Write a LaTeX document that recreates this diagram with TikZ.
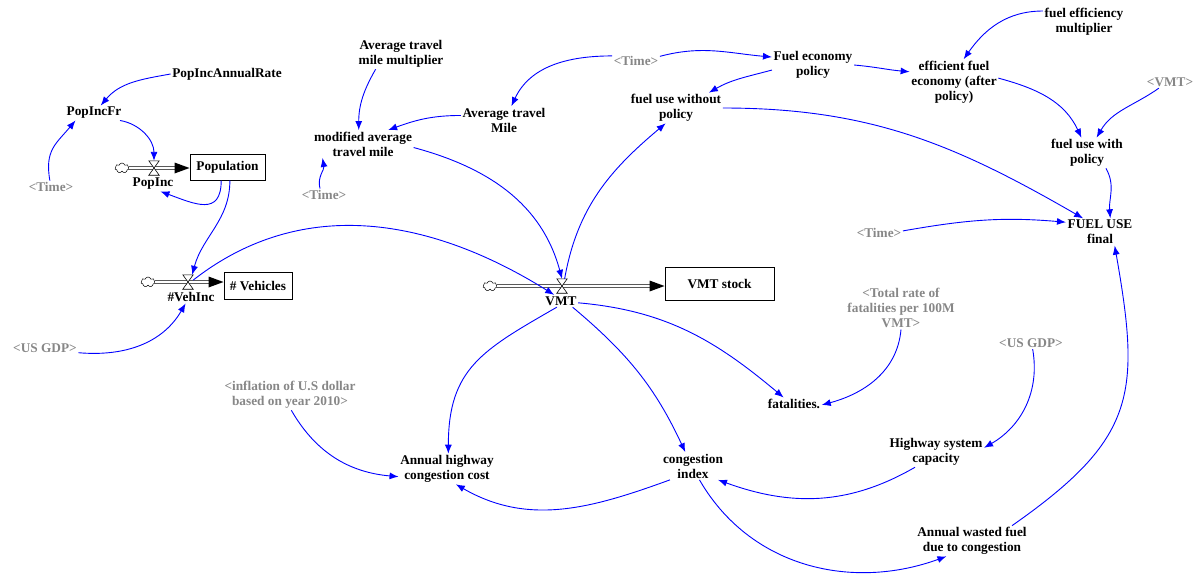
\documentclass[tikz,border=0pt]{standalone}
\usepackage{fontspec}
\setmainfont{Liberation Serif}
\usetikzlibrary{arrows.meta,shapes.symbols}
\definecolor{shadowgray}{RGB}{135,135,135}
\definecolor{linkblue}{RGB}{0,0,255}
\begin{document}
\begin{tikzpicture}[x=1pt,y=1pt,
  lbl/.style={font=\fontsize{13.3}{15}\selectfont\bfseries, align=center, inner sep=1.5pt},
  shadow/.style={lbl, text=shadowgray},
  stock/.style={draw=black, line width=1pt, font=\fontsize{13.3}{15}\selectfont\bfseries, inner sep=1pt},
  cnx/.style={draw=linkblue, line width=0.9pt, -{Latex[length=9pt,width=7pt]}},
  pipe/.style={draw=black, double=white, double distance=1.6pt, line width=0.9pt},
  valve/.style={minimum width=10pt, minimum height=14pt, inner sep=0pt},
  src/.style={cloud, cloud puffs=7, aspect=1.4, draw=black, fill=white, line width=0.5pt, minimum width=14pt, minimum height=10pt, inner sep=0pt},
  bowtie/.style={draw=black, fill=white, line width=0.6pt}
]
\useasboundingbox (0,0) rectangle (1201,-584);

% ---- population sector ----
\node[lbl] (rate) at (227,-74) {PopIncAnnualRate};
\node[lbl] (fr) at (94,-113) {PopIncFr};
\node[shadow] (tA) at (51,-187) {<Time>};
\node[stock, minimum width=75pt, minimum height=26pt] (pop) at (227.5,-167) {Population};
\node[valve] (popv) at (154,-168) {};
\node[src] (popc) at (122,-168) {};
\node[lbl] (popinc) at (153,-184) {PopInc};

\node[stock, minimum width=68pt, minimum height=27pt] (veh) at (258,-285.5) {\# Vehicles};
\node[valve] (vehv) at (188,-282) {};
\node[src] (vehc) at (148,-282) {};
\node[lbl] (vehinc) at (191,-297) {\#VehInc};
\node[shadow] (gdpA) at (45,-348) {<US GDP>};

% ---- travel sector ----
\node[lbl] (atmm) at (401,-54) {Average travel\\mile multiplier};
\node[lbl] (mod) at (363,-144) {modified average\\travel mile};
\node[shadow] (tB) at (324,-195) {<Time>};
\node[lbl] (atm) at (504,-120) {Average travel\\Mile};
\node[shadow] (tC) at (636,-61) {<Time>};

% ---- fuel sector ----
\node[lbl] (fep) at (813,-65) {Fuel economy\\policy};
\node[lbl] (fuwo) at (676,-108) {fuel use without\\policy};
\node[lbl] (eff) at (954,-82) {efficient fuel\\economy (after\\policy)};
\node[lbl] (fem) at (1084,-22) {fuel efficiency\\multiplier};
\node[shadow] (vmtR) at (1170,-82) {<VMT>};
\node[lbl] (fuwp) at (1087,-153) {fuel use with\\policy};
\node[shadow] (tD) at (879,-233) {<Time>};
\node[lbl] (fuel) at (1100,-232) {FUEL USE\\final};

% ---- VMT sector ----
\node[valve] (vmtv) at (562,-286) {};
\node[src] (vmtc) at (490,-286) {};
\node[lbl] (vmt) at (561,-301) {VMT};
\node[stock, minimum width=109pt, minimum height=33pt] (vmts) at (719.5,-283.5) {VMT stock};
\node[shadow] (tot) at (901,-308) {<Total rate of\\fatalities per 100M\\VMT>};
\node[lbl] (fat) at (794,-404) {fatalities.};
\node[shadow] (gdpB) at (1031,-343) {<US GDP>};
\node[lbl] (hsc) at (936,-452) {Highway system\\capacity};
\node[shadow] (infl) at (290,-395) {<inflation of U.S dollar\\based on year 2010>};
\node[lbl] (ahcc) at (447,-469) {Annual highway\\congestion cost};
\node[lbl] (ci) at (693,-466) {congestion\\index};
\node[lbl] (awf) at (972,-541) {Annual wasted fuel\\due to congestion};

% ---- flow pipes ----
\coordinate (poptip) at (pop.west |- popv);
\coordinate (vehtip) at (veh.west |- vehv);
\coordinate (vmttip) at (vmts.west |- vmtv);
\foreach \c/\t in {popc/poptip, vehc/vehtip, vmtc/vmttip}{
  \draw[pipe] (\c.east) -- ([xshift=-12pt]\t);
  \fill[black] (\t) -- ([xshift=-15pt,yshift=5.5pt]\t) -- ([xshift=-15pt,yshift=-5.5pt]\t) -- cycle;
}
\foreach \v in {popv, vehv, vmtv}{
  \draw[bowtie] (\v.north west) -- (\v.north east) -- (\v.south west) -- (\v.south east) -- cycle;
}

% ---- causal links ----
\draw[cnx] (rate.180) to[out=190,in=50] (fr.48);
\draw[cnx] (tA.100) to[out=100,in=230,looseness=1.2] (fr.202);
\draw[cnx] (fr.-16) to[out=-10,in=90] (popv.north);
\draw[cnx] (pop.-115) to[out=-90,in=-20,looseness=1.5] (popinc.-45);
\draw[cnx] (pop.-80) to[out=-90,in=75] (vehv.60);
\draw[cnx] (vehv.20) to[out=38,in=148] (vmt.138);
\draw[cnx] (gdpA.-8) to[out=-5,in=-120] (vehinc.-130);

\draw[cnx] (atmm.211) to[out=-120,in=90] (mod.107);
\draw[cnx] (atm.174) to[out=180,in=20] (mod.29);
\draw[cnx] (tB.122) to[out=105,in=-80] (mod.199);
\draw[cnx] (mod.-4) to[out=-15,in=105] (vmtv.north);
\draw[cnx] (vmtv.70) to[out=80,in=-140] (fuwo.-124);
\draw[cnx] (tC.168) to[out=180,in=65] (atm.62);
\draw[cnx] (tC.11) to[out=15,in=175] (fep.169);

\draw[cnx] (fep.187) to[out=195,in=30] (fuwo.25);
\draw[cnx] (fep.0) to[out=-5,in=175] (eff.167);
\draw[cnx] (fem.165) to[out=180,in=55] (eff.67);
\draw[cnx] (eff.5) to[out=-15,in=115] (fuwp.110);
\draw[cnx] (vmtR.209) to[out=215,in=60] (fuwp.58);
\draw[cnx] (fuwp.-39) to[out=-60,in=95] (fuel.53);
\draw[cnx] (fuwo.0) to[out=0,in=150] (fuel.141);
\draw[cnx] (tD.5) to[out=10,in=175] (fuel.164);
\draw[cnx] (awf.21) to[out=35,in=-80,looseness=1.3] (fuel.-43);

\draw[cnx] (vmt.-6) to[out=-5,in=140] (fat.148);
\draw[cnx] (tot.-90) to[out=-95,in=15] (fat.-2);
\draw[cnx] (gdpB.-75) to[out=-80,in=30] (hsc.5);
\draw[cnx] (hsc.216) to[out=210,in=-20] (ci.-29);
\draw[cnx] (vmt.-124) to[out=-150,in=90,looseness=1.2] (ahcc.85);
\draw[cnx] (vmt.-28) to[out=-40,in=115] (ci.119);
\draw[cnx] (infl.-85) to[out=-60,in=175] (ahcc.189);
\draw[cnx] (ci.211) to[out=200,in=-30] (ahcc.-60);
\draw[cnx] (ci.-65) to[out=-60,in=200] (awf.211);
\end{tikzpicture}
\end{document}
